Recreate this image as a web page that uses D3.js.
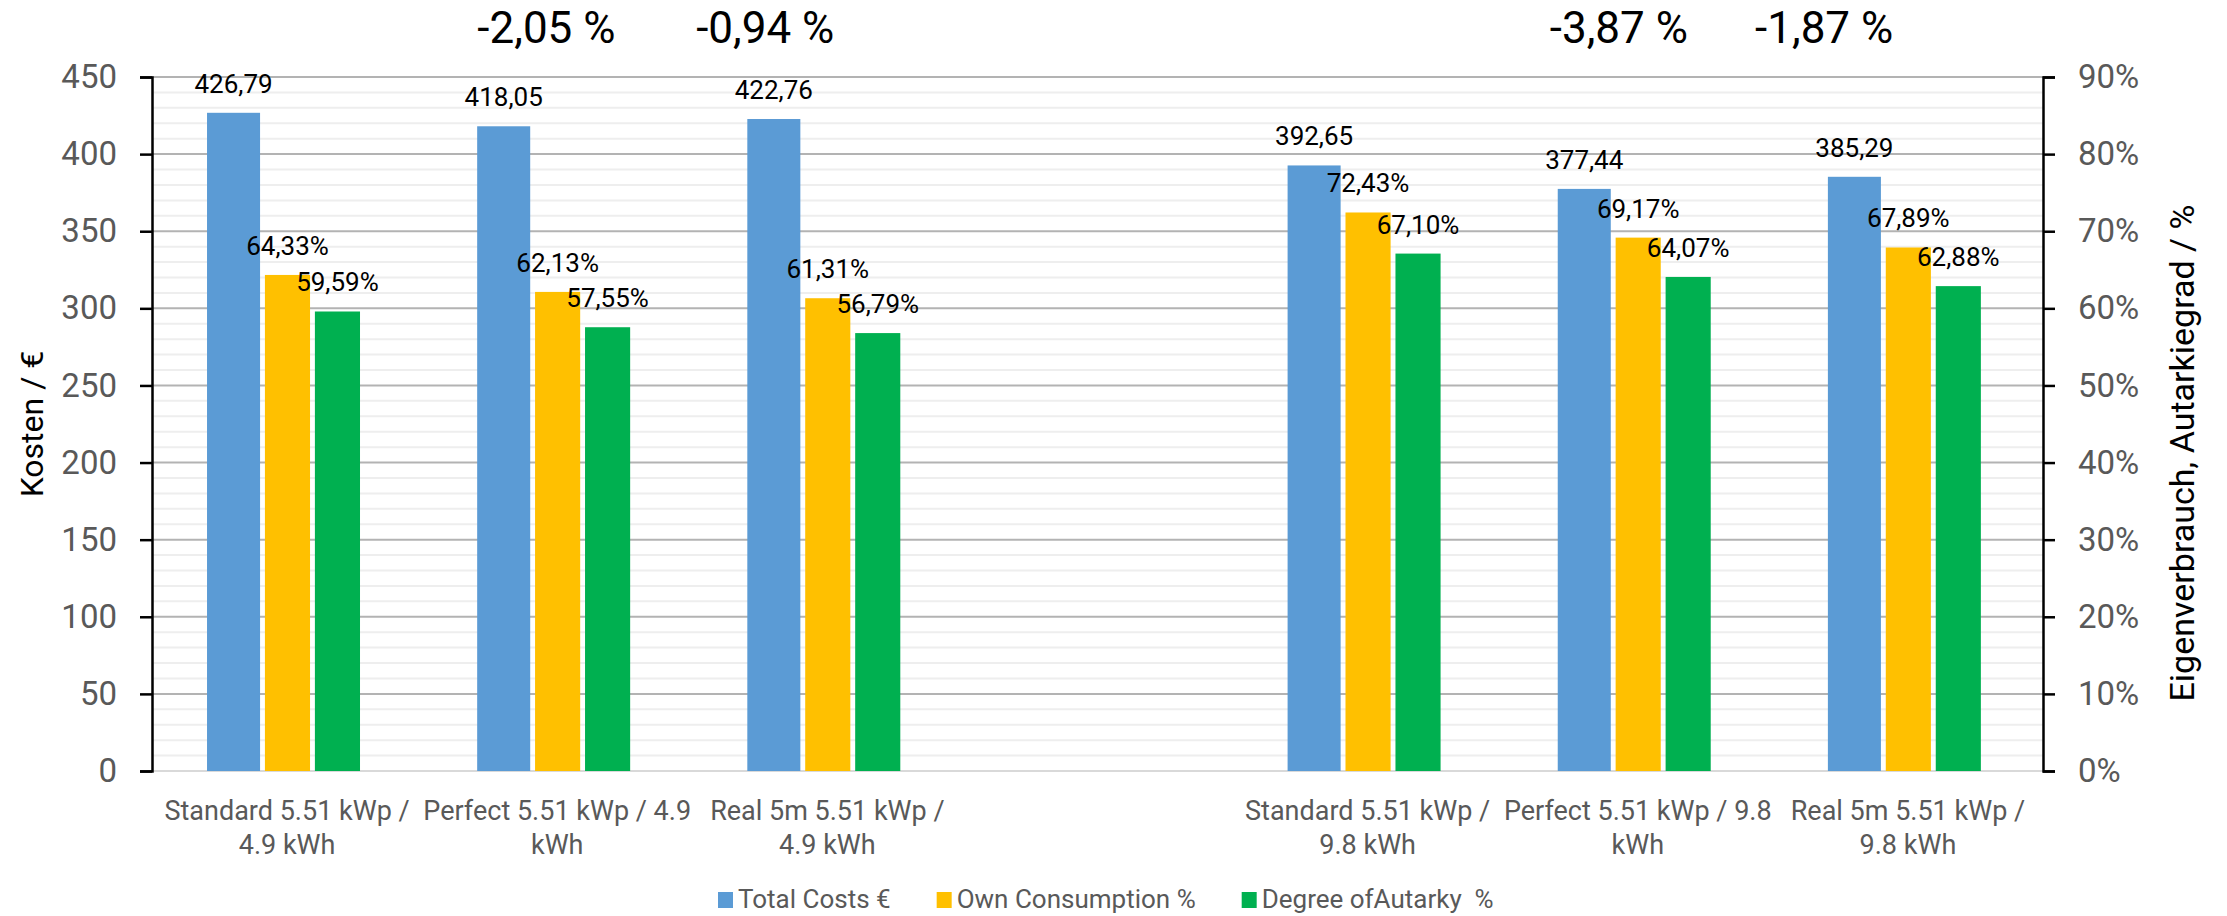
<!DOCTYPE html>
<html>
<head>
<meta charset="utf-8">
<script src="https://cdn.jsdelivr.net/npm/d3@7"></script>
<style>
  html, body { margin: 0; padding: 0; background: #fff; }
  text { font-family: Roboto, "Open Sans", sans-serif; }
</style>
</head>
<body>
<div id="chart"></div>
<script>
// data
var categories = ["std49", "perf49", "real49", "gap", "std98", "perf98", "real98"];
var categoryLabels = [
  ["Standard 5.51 kWp /", "4.9 kWh"],
  ["Perfect 5.51 kWp / 4.9", "kWh"],
  ["Real 5m 5.51 kWp /", "4.9 kWh"],
  [],
  ["Standard 5.51 kWp /", "9.8 kWh"],
  ["Perfect 5.51 kWp / 9.8", "kWh"],
  ["Real 5m 5.51 kWp /", "9.8 kWh"]
];
var totalCosts = [426.79, 418.05, 422.76, null, 392.65, 377.44, 385.29];
var ownConsumption = [64.33, 62.13, 61.31, null, 72.43, 69.17, 67.89];
var autarky = [59.59, 57.55, 56.79, null, 67.10, 64.07, 62.88];
var seriesNames = ["Total Costs €", "Own Consumption %", "Degree ofAutarky  %"];
var seriesColours = ["#5b9bd5", "#ffc000", "#00b050"];
var costTicks = [0, 50, 100, 150, 200, 250, 300, 350, 400, 450];
var shareTicks = [0, 10, 20, 30, 40, 50, 60, 70, 80, 90];
var deltaCats = ["perf49", "real49", "perf98", "real98"];
var deltaValues = [-2.05, -0.94, -3.87, -1.87];

// layout
var width = 2227, height = 916;
var mLeft = 152, mRight = 2043, mTop = 77, mBottom = 771;
var barSlots = [[0.2037, 0.4], [0.418, 0.585], [0.603, 0.770]]; // fraction of band
var deltaShift = [-0.04, -0.23, -0.07, -0.31]; // fraction of band from centre

var de = d3.formatLocale({decimal: ",", thousands: ".", grouping: [3], currency: ["", "€"], minus: "-"});
var f2 = de.format(".2f");

var svg = d3.select("#chart").append("svg")
  .attr("width", width).attr("height", height);

var x = d3.scaleBand().domain(categories).range([mLeft, mRight]).padding(0);
var yCost = d3.scaleLinear().domain([0, 450]).range([mBottom, mTop]);
var yShare = d3.scaleLinear().domain([0, 90]).range([mBottom, mTop]);

// minor grid every 10 €
svg.append("g").selectAll("line")
  .data(d3.range(10, 450, 10).filter(v => v % 50 != 0))
  .enter().append("line")
  .attr("x1", mLeft).attr("x2", mRight)
  .attr("y1", d => yCost(d)).attr("y2", d => yCost(d))
  .attr("stroke", "#eeeeee").attr("stroke-width", 2);

// major grid
svg.append("g").selectAll("line")
  .data(costTicks.filter(v => v > 0))
  .enter().append("line")
  .attr("x1", mLeft).attr("x2", mRight)
  .attr("y1", d => yCost(d)).attr("y2", d => yCost(d))
  .attr("stroke", "#b3b3b3").attr("stroke-width", 2);

svg.append("line")
  .attr("x1", mLeft).attr("x2", mRight)
  .attr("y1", yCost(0)).attr("y2", yCost(0))
  .attr("stroke", "#d9d9d9").attr("stroke-width", 2);

// bars
var series = [
  {vals: totalCosts, y: yCost, fmt: d => f2(d)},
  {vals: ownConsumption, y: yShare, fmt: d => f2(d) + "%"},
  {vals: autarky, y: yShare, fmt: d => f2(d) + "%"}
];
var bw = x.bandwidth();
series.forEach(function(s, i) {
  var rows = categories.map((c, j) => ({cat: c, v: s.vals[j]})).filter(d => d.v != null);
  var g = svg.append("g");
  g.selectAll("rect").data(rows).enter().append("rect")
    .attr("x", d => x(d.cat) + bw * barSlots[i][0])
    .attr("width", bw * (barSlots[i][1] - barSlots[i][0]))
    .attr("y", d => s.y(d.v))
    .attr("height", d => s.y(0) - s.y(d.v))
    .attr("fill", seriesColours[i]);
  g.selectAll("text").data(rows).enter().append("text")
    .attr("x", d => x(d.cat) + bw * (barSlots[i][0] + barSlots[i][1]) / 2)
    .attr("y", d => s.y(d.v) - 20)
    .attr("text-anchor", "middle")
    .attr("font-size", 26)
    .attr("fill", "#000")
    .text(d => s.fmt(d.v));
});

// axes
var axL = svg.append("g").attr("transform", "translate(" + mLeft + ",0)")
  .call(d3.axisLeft(yCost).tickValues(costTicks).tickSize(12).tickPadding(23));
var axR = svg.append("g").attr("transform", "translate(" + mRight + ",0)")
  .call(d3.axisRight(yShare).tickValues(shareTicks).tickSize(12).tickPadding(23)
    .tickFormat(d => d + "%"));
[axL, axR].forEach(function(a) {
  a.select(".domain").attr("stroke", "#000").attr("stroke-width", 2.5);
  a.selectAll(".tick line").attr("stroke", "#000").attr("stroke-width", 2.5);
  a.selectAll(".tick text").attr("fill", "#595959")
    .attr("font-size", 33).attr("font-family", "Roboto");
});

// category labels
var cl = svg.append("g").selectAll("text")
  .data(categories.map((c, j) => ({cat: c, lines: categoryLabels[j]})))
  .enter().append("text")
  .attr("text-anchor", "middle")
  .attr("font-size", 27)
  .attr("fill", "#595959");
cl.selectAll("tspan").data(d => d.lines.map(l => ({cat: d.cat, l: l})))
  .enter().append("tspan")
  .attr("x", d => x(d.cat) + bw / 2)
  .attr("y", (d, k) => 820 + k * 34)
  .text(d => d.l);

// axis titles
svg.append("text")
  .attr("transform", "translate(43," + ((mTop + mBottom) / 2) + ") rotate(-90)")
  .attr("text-anchor", "middle").attr("font-size", 32).attr("fill", "#000")
  .text("Kosten / €");
svg.append("text")
  .attr("transform", "translate(2194,453) rotate(-90)")
  .attr("text-anchor", "middle").attr("font-size", 34).attr("fill", "#000")
  .text("Eigenverbrauch, Autarkiegrad / %");

// delta annotations
svg.append("g").selectAll("text")
  .data(deltaCats.map((c, j) => ({cat: c, v: deltaValues[j], s: deltaShift[j]})))
  .enter().append("text")
  .attr("x", d => x(d.cat) + bw * (0.5 + d.s))
  .attr("y", 43)
  .attr("text-anchor", "middle")
  .attr("font-size", 44)
  .attr("fill", "#000")
  .text(d => f2(d.v) + " %");

// legend
var lg = svg.append("g");
var lx = 718;
seriesNames.forEach(function(n, i) {
  lg.append("rect").attr("x", lx).attr("y", 892).attr("width", 15).attr("height", 16)
    .attr("fill", seriesColours[i]);
  var t = lg.append("text").attr("x", lx + 20).attr("y", 908)
    .attr("font-size", 26).attr("fill", "#595959")
    .attr("xml:space", "preserve").style("white-space", "pre")
    .text(n);
  lx += 20 + t.node().getComputedTextLength() + 46;
});
</script>
</body>
</html>
